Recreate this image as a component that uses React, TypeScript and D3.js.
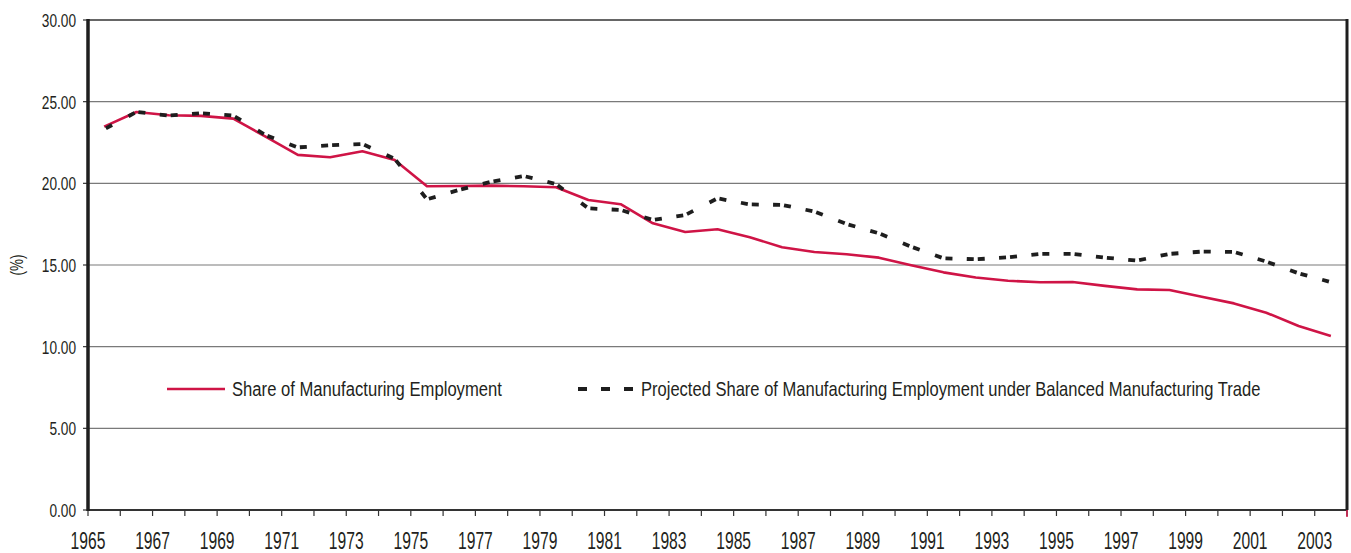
import React from 'react';
import * as d3 from 'd3';

const years = [
  1965, 1966, 1967, 1968, 1969, 1970, 1971, 1972, 1973, 1974,
  1975, 1976, 1977, 1978, 1979, 1980, 1981, 1982, 1983, 1984,
  1985, 1986, 1987, 1988, 1989, 1990, 1991, 1992, 1993, 1994,
  1995, 1996, 1997, 1998, 1999, 2000, 2001, 2002, 2003,
];

const shareActual = [
  23.47, 24.37, 24.17, 24.13, 23.96, 22.86, 21.74, 21.6, 21.96, 21.43,
  19.82, 19.84, 19.86, 19.82, 19.76, 18.98, 18.72, 17.55, 17.02, 17.19,
  16.7, 16.09, 15.8, 15.66, 15.45, 14.98, 14.55, 14.23, 14.04, 13.94,
  13.96, 13.72, 13.51, 13.47, 13.06, 12.65, 12.08, 11.27, 10.66,
];

const shareBalanced = [
  23.31, 24.37, 24.15, 24.29, 24.15, 22.95, 22.2, 22.33, 22.41, 21.5,
  19.02, 19.6, 20.1, 20.45, 19.95, 18.47, 18.37, 17.76, 18.06, 19.08,
  18.71, 18.68, 18.27, 17.51, 16.94, 16.12, 15.41, 15.35, 15.47, 15.68,
  15.68, 15.45, 15.27, 15.68, 15.82, 15.8, 15.21, 14.49, 13.95,
];

const yTicks = [0, 5, 10, 15, 20, 25, 30];

const seriesNames = [
  'Share of Manufacturing Employment',
  'Projected Share of Manufacturing Employment under Balanced Manufacturing Trade',
];

const W = 1351;
const H = 553;
const M = { left: 88, right: 1347, top: 20, bottom: 510 };
const RED = '#cf1446';
const DARK = '#1e1e1e';
const TXT = '#231f20';
const FONT = "'Liberation Sans', Arial, sans-serif";

function measure(text: string, size: number): number {
  if (typeof document === 'undefined') return text.length * size * 0.5;
  const c = document.createElement('canvas').getContext('2d');
  if (!c) return text.length * size * 0.5;
  c.font = `${size}px 'Liberation Sans', Arial, sans-serif`;
  return c.measureText(text).width;
}

export default function App() {
  const x = d3.scaleBand<number>().domain(years).range([M.left, M.right]).padding(0);
  const y = d3.scaleLinear().domain([0, 30]).range([M.bottom, M.top]);
  const cx = (yr: number) => (x(yr) as number) + x.bandwidth() / 2;

  const line = d3
    .line<number>()
    .x((_, i) => cx(years[i]))
    .y((d) => y(d));

  const boundaries = years.map((yr) => x(yr) as number).concat([M.right]);

  const balancedPts = shareBalanced.map((v, i) => [cx(years[i]), y(v)] as [number, number]);
  const segs = balancedPts.slice(1).map((p, i) => {
    const a = balancedPts[i];
    const L = Math.hypot(p[0] - a[0], p[1] - a[1]);
    return { a, b: p, L };
  });

  const legendFont = 21;
  const legendWidths = [270, 620];
  const legendScale = seriesNames.map((s, i) => legendWidths[i] / measure(s, legendFont));

  return (
    <svg
      width={W}
      height={H}
      style={{ position: 'absolute', left: 0, top: 0, background: '#fff' }}
      fontFamily={FONT}
    >
      {/* gridlines */}
      {yTicks.map((t) => (
        <line
          key={'g' + t}
          x1={M.left}
          x2={M.right}
          y1={y(t)}
          y2={y(t)}
          stroke={t === 30 ? '#333' : '#7a7a7a'}
          strokeWidth={t === 30 ? 1.6 : 1.2}
        />
      ))}
      {/* y ticks and labels */}
      {yTicks.map((t) => (
        <g key={'yt' + t}>
          <line x1={M.left - 5} x2={M.left} y1={y(t)} y2={y(t)} stroke="#333" strokeWidth={1.2} />
          <text
            transform={`translate(76,${y(t)}) scale(0.72,1)`}
            dy="0.36em"
            textAnchor="end"
            fontSize={19}
            fill={TXT}
          >
            {t.toFixed(2)}
          </text>
        </g>
      ))}
      <text
        transform={`translate(23,${(M.top + M.bottom) / 2}) rotate(-90) scale(0.75,1)`}
        textAnchor="middle"
        fontSize={18}
        fill={TXT}
      >
        (%)
      </text>

      {/* x axis */}
      <line x1={M.left} x2={M.right} y1={M.bottom} y2={M.bottom} stroke="#333" strokeWidth={2} />
      {boundaries.map((bx, i) => (
        <line key={'xt' + i} x1={bx} x2={bx} y1={M.bottom} y2={M.bottom + 6} stroke="#333" strokeWidth={1.2} />
      ))}
      <line x1={M.right} x2={M.right} y1={M.bottom} y2={M.bottom + 7} stroke={RED} strokeWidth={1.5} />
      {years
        .filter((_, i) => i % 2 === 0)
        .map((yr) => (
          <text
            key={'xl' + yr}
            transform={`translate(${x(yr) as number},548.5) scale(0.68,1)`}
            textAnchor="middle"
            fontSize={23}
            fill={TXT}
          >
            {yr}
          </text>
        ))}

      {/* borders */}
      <line x1={M.left} x2={M.left} y1={M.top - 1} y2={M.bottom + 1} stroke={DARK} strokeWidth={3.5} />
      <line x1={M.right} x2={M.right} y1={M.top - 1} y2={M.bottom} stroke={DARK} strokeWidth={3} />

      {/* actual series */}
      <path d={line(shareActual) as string} fill="none" stroke={RED} strokeWidth={2.6} strokeLinejoin="round" />

      {/* balanced series, dash restarted per segment */}
      {segs.map((s, i) => (
        <line
          key={'bs' + i}
          x1={s.a[0]}
          y1={s.a[1]}
          x2={s.b[0]}
          y2={s.b[1]}
          stroke={DARK}
          strokeWidth={3.8}
          strokeDasharray={`7 ${Math.max(s.L - 18, 2)} 7 4`}
          strokeDashoffset={-2}
        />
      ))}

      {/* legend */}
      <line x1={167} x2={225} y1={389} y2={389} stroke={RED} strokeWidth={2.6} />
      <text
        transform={`translate(232,395.5) scale(${legendScale[0]},1)`}
        fontSize={legendFont}
        fill={TXT}
      >
        {seriesNames[0]}
      </text>
      <line x1={578} x2={633} y1={389} y2={389} stroke={DARK} strokeWidth={4} strokeDasharray="9 14" />
      <text
        transform={`translate(641,395.5) scale(${legendScale[1]},1)`}
        fontSize={legendFont}
        fill={TXT}
      >
        {seriesNames[1]}
      </text>
    </svg>
  );
}
